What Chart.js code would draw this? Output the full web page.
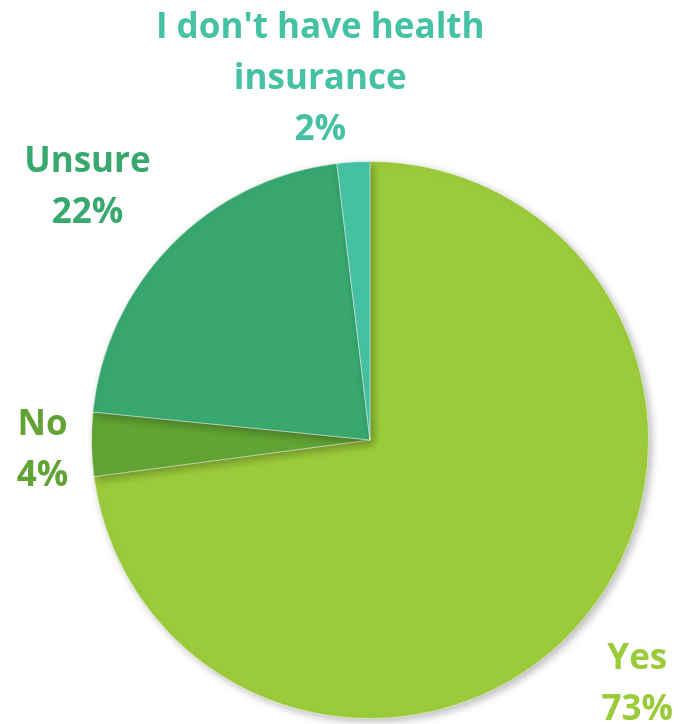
<!DOCTYPE html>
<html>
<head>
<meta charset="utf-8">
<script src="https://cdn.jsdelivr.net/npm/chart.js@4.4.1/dist/chart.umd.min.js"></script>
<style>
  html, body { margin: 0; padding: 0; background: #fff; }
  #wrap { width: 679px; height: 724px; position: relative; }
</style>
</head>
<body>
<div id="wrap"><canvas id="pieChart"></canvas></div>
<script>
// Chart data
const categories = ['Yes', 'No', 'Unsure', "I don't have health insurance"];
const labelLines = [['Yes'], ['No'], ['Unsure'], ["I don't have health", 'insurance']];
const shares = [72.9, 3.7, 21.5, 1.9];
const shownPercents = ['73%', '4%', '22%', '2%'];
const sliceColors = ['#9BCB3B', '#62A434', '#38A86F', '#45C2A4'];

// label placement: distance from centre (in radii) and small pixel nudge
const labelDistance = [1.295, 1.176, 1.366, 1.31];
const labelNudge = [[-4, 4], [0, 3], [-11, 11], [-28, 1]];

const shadowPlugin = {
    id: 'pieShadow',
    beforeDatasetsDraw(chart) {
        const c = chart.ctx;
        c.save();
        c.shadowColor = 'rgba(0,0,0,0.28)';
        c.shadowBlur = 9;
        c.shadowOffsetX = 3;
        c.shadowOffsetY = 3;
    },
    afterDatasetsDraw(chart) {
        chart.ctx.restore();
    }
};

const outsideLabels = {
    id: 'outsideLabels',
    afterDraw(chart) {
        const c = chart.ctx;
        const meta = chart.getDatasetMeta(0);
        const lh = 51;
        const capH = 25;
        c.save();
        c.font = 'bold 35px "Open Sans", Lato, sans-serif';
        c.textAlign = 'center';
        c.textBaseline = 'alphabetic';
        meta.data.forEach(function(arc, i) {
            const mid = (arc.startAngle + arc.endAngle) / 2;
            const d = arc.outerRadius * labelDistance[i];
            const cx = arc.x + Math.cos(mid) * d + labelNudge[i][0];
            const cy = arc.y + Math.sin(mid) * d + labelNudge[i][1];
            const lines = labelLines[i].concat([shownPercents[i]]);
            c.fillStyle = sliceColors[i];
            lines.forEach(function(txt, k) {
                const y = cy - (lines.length - 1) * lh / 2 + k * lh + capH / 2;
                c.fillText(txt, cx, y);
            });
        });
        c.restore();
    }
};

new Chart(document.getElementById('pieChart').getContext('2d'), {
    type: 'pie',
    data: {
        labels: categories,
        datasets: [{
            data: shares,
            backgroundColor: sliceColors,
            borderColor: 'rgba(255,255,255,0.45)',
            borderWidth: 1
        }]
    },
    options: {
        responsive: true,
        maintainAspectRatio: false,
        animation: false,
        layout: {
            padding: { top: 161, bottom: 5, left: 91, right: 30 }
        },
        plugins: {
            legend: { display: false },
            tooltip: { enabled: false }
        }
    },
    plugins: [shadowPlugin, outsideLabels]
});
</script>
</body>
</html>
